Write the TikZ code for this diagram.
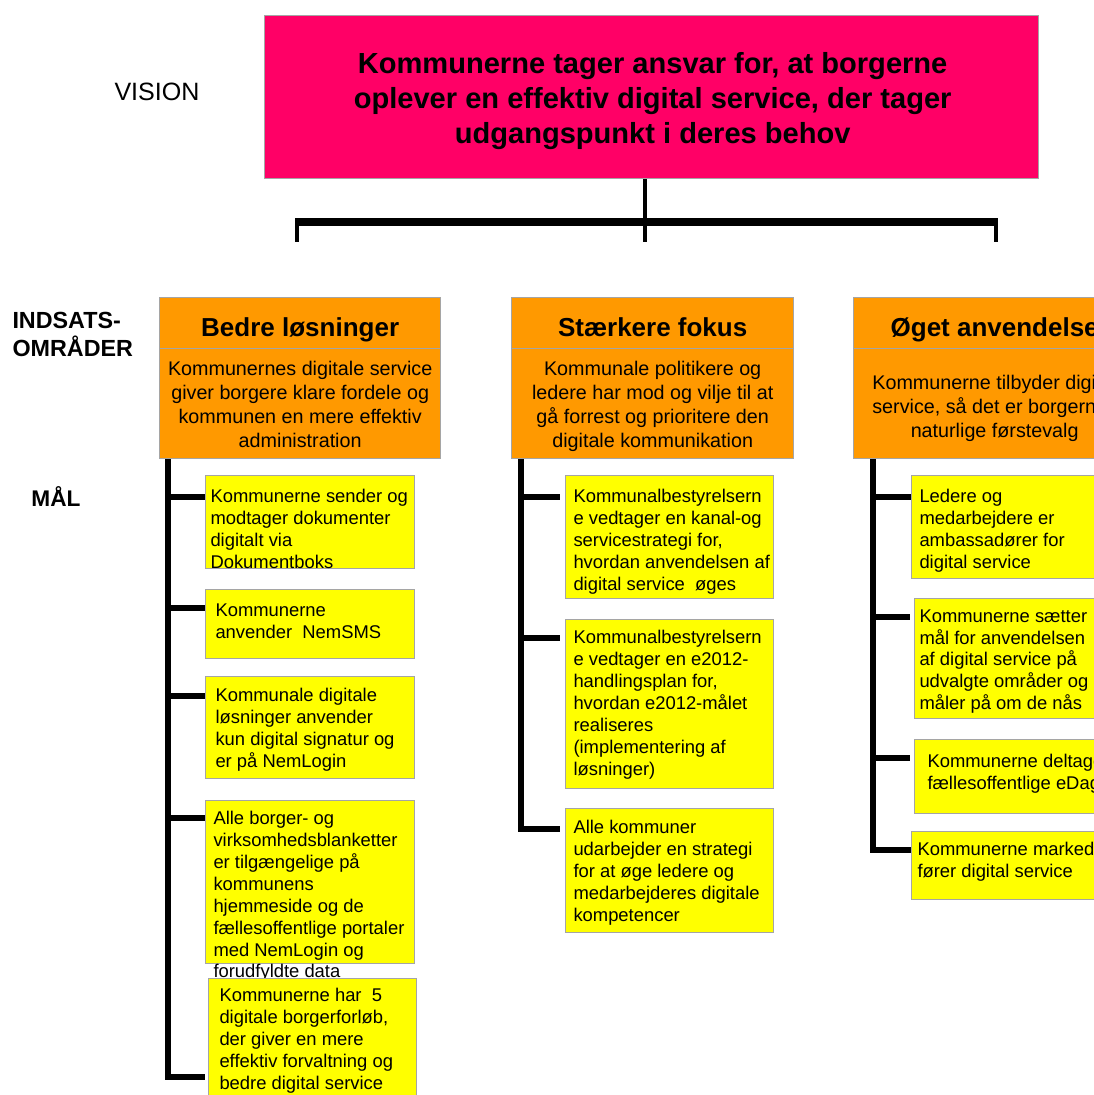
\documentclass[tikz,border=0pt]{standalone}
\usepackage{fontspec}
\setmainfont{Liberation Sans}

\definecolor{visionpink}{RGB}{255,0,102}
\definecolor{areaorange}{RGB}{255,153,0}
\definecolor{goalyellow}{RGB}{255,255,0}
\definecolor{boxgray}{RGB}{165,165,165}

\tikzset{every picture/.style={line width=0.75pt}}
\tikzset{
	box size/.style 2 args={minimum width=#1*0.75pt, minimum height=#2*0.75pt},
	visionbox/.style={draw=boxgray, fill=visionpink, line width=1pt, inner sep=0pt, anchor=north west},
	visiontext/.style={inner sep=0pt, align=center, font=\fontsize{21.8}{26}\selectfont\bfseries},
	areabox/.style={draw=boxgray, fill=areaorange, line width=1pt, inner sep=0pt, anchor=north west},
	areahead/.style={inner sep=0pt, anchor=base, font=\fontsize{19.5}{24}\selectfont\bfseries},
	areatext/.style={inner sep=0pt, align=center, font=\fontsize{14.8}{18}\selectfont},
	goalbox/.style={draw=boxgray, fill=goalyellow, line width=1pt, inner sep=0pt, anchor=north west},
	goaltext/.style={anchor=north west, inner sep=0pt, align=left, font=\fontsize{13.8}{16.4}\selectfont},
	sidelabel/.style={inner sep=0pt, font=\fontsize{17.5}{21}\selectfont\bfseries},
	trunk/.style={line width=4.5pt},
	branch/.style={line width=3.8pt},
	leg/.style={line width=3pt},
	bar/.style={line width=5.5pt}
}

\begin{document}
\begin{tikzpicture}[x=0.75pt,y=0.75pt,yscale=-1,xscale=1]
	\useasboundingbox (0,0) rectangle (1094,1095);
	\clip (0,0) rectangle (1094,1095);

	% Labels at the left
	\node[sidelabel, font=\fontsize{18.8}{22}\selectfont] (lvision) at (157,92) {VISION};
	\node[sidelabel, anchor=west, align=left] (lareas) at (12,334) {INDSATS-\\OMRÅDER};
	\node[sidelabel, font=\fontsize{17}{20}\selectfont\bfseries] (lgoals) at (56,497) {MÅL};

	% Vision
	\node[visionbox, box size={774}{163}] (vision) at (264,15) {};
	\node[visiontext] (vtext) at ([shift={(1,4)}]vision.center) {Kommunerne tager ansvar for, at borgerne\\oplever en effektiv digital service, der tager\\udgangspunkt i deres behov};

	% Bar under the vision
	\coordinate (bar1) at (297,222);
	\coordinate (bar3) at (996,222);
	\coordinate (leg1) at (297,242);
	\coordinate (leg2) at (645,242);
	\coordinate (leg3) at (996,242);
	\draw[leg] (leg2 |- vision.south) -- (leg2);
	\draw[bar] ([xshift=-1.5pt]bar1) -- ([xshift=1.5pt]bar3);
	\draw[leg] (bar1) -- (leg1);
	\draw[leg] (bar3) -- (leg3);

	% Indsatsomraader
	\node[areabox, box size={281}{51}] (h1) at (159,297) {};
	\node[areabox, box size={281}{110}] (d1) at (159,348) {};
	\node[areahead] (ht1) at ([shift={(0,13)}]h1.center) {Bedre løsninger};
	\node[areatext] (dt1) at ([shift={(0,1)}]d1.center) {Kommunernes digitale service\\giver borgere klare fordele og\\kommunen en mere effektiv\\administration};

	\node[areabox, box size={282}{51}] (h2) at (511,297) {};
	\node[areabox, box size={282}{110}] (d2) at (511,348) {};
	\node[areahead] (ht2) at ([shift={(0,13)}]h2.center) {Stærkere fokus};
	\node[areatext] (dt2) at ([shift={(0,3)}]d2.center) {Kommunale politikere og\\ledere har mod og vilje til at\\gå forrest og prioritere den\\digitale kommunikation};

	\node[areabox, box size={282}{51}] (h3) at (853,297) {};
	\node[areabox, box size={282}{110}] (d3) at (853,348) {};
	\node[areahead] (ht3) at ([shift={(0,13)}]h3.center) {Øget anvendelse};
	\node[areatext] (dt3) at ([shift={(0,5)}]d3.center) {Kommunerne tilbyder digital\\service, så det er borgernes\\naturlige førstevalg};

	% Maal, kolonne 1
	\node[goalbox, box size={209}{93}] (m11) at (205,475) {};
	\node[goaltext] (t11) at ([shift={(5,14)}]m11.north west) {Kommunerne sender og\\modtager dokumenter\\digitalt via\\Dokumentboks};
	\node[goalbox, box size={209}{69}] (m12) at (205,589) {};
	\node[goaltext] (t12) at ([shift={(10,14)}]m12.north west) {Kommunerne\\anvender\ \ NemSMS};
	\node[goalbox, box size={209}{102}] (m13) at (205,676) {};
	\node[goaltext] (t13) at ([shift={(10,12)}]m13.north west) {Kommunale digitale\\løsninger anvender\\kun digital signatur og\\er på NemLogin};
	\node[goalbox, box size={209}{163}] (m14) at (205,800) {};
	\node[goaltext] (t14) at ([shift={(8,11)}]m14.north west) {Alle borger- og\\virksomhedsblanketter\\er tilgængelige på\\kommunens\\hjemmeside og de\\fællesoffentlige portaler\\med NemLogin og\\forudfyldte data};
	\node[goalbox, box size={208}{140}] (m15) at (208,978) {};
	\node[goaltext] (t15) at ([shift={(11,10)}]m15.north west) {Kommunerne har\ \ 5\\digitale borgerforløb,\\der giver en mere\\effektiv forvaltning og\\bedre digital service};

	% Maal, kolonne 2
	\node[goalbox, box size={208}{123}] (m21) at (565,475) {};
	\node[goaltext] (t21) at ([shift={(8,14)}]m21.north west) {Kommunalbestyrelsern\\e vedtager en kanal-og\\servicestrategi for,\\hvordan anvendelsen af\\digital service\ \ øges};
	\node[goalbox, box size={208}{169}] (m22) at (565,619) {};
	\node[goaltext] (t22) at ([shift={(8,11)}]m22.north west) {Kommunalbestyrelsern\\e vedtager en e2012-\\handlingsplan for,\\hvordan e2012-målet\\realiseres\\(implementering af\\løsninger)};
	\node[goalbox, box size={208}{124}] (m23) at (565,808) {};
	\node[goaltext] (t23) at ([shift={(8,12)}]m23.north west) {Alle kommuner\\udarbejder en strategi\\for at øge ledere og\\medarbejderes digitale\\kompetencer};

	% Maal, kolonne 3
	\node[goalbox, box size={220}{103}] (m31) at (911,475) {};
	\node[goaltext] (t31) at ([shift={(8,14)}]m31.north west) {Ledere og\\medarbejdere er\\ambassadører for\\digital service};
	\node[goalbox, box size={220}{120}] (m32) at (914,598) {};
	\node[goaltext] (t32) at ([shift={(5,11)}]m32.north west) {Kommunerne sætter\\mål for anvendelsen\\af digital service på\\udvalgte områder og\\måler på om de nås};
	\node[goalbox, box size={220}{74}] (m33) at (914,739) {};
	\node[goaltext] (t33) at ([shift={(13,15)}]m33.north west) {Kommunerne deltager i\\fællesoffentlige eDage};
	\node[goalbox, box size={220}{68}] (m34) at (911,831) {};
	\node[goaltext] (t34) at ([shift={(6,11)}]m34.north west) {Kommunerne markeds-\\fører digital service};

	% Stammer og grene
	\coordinate (s1) at ([shift={(9,0)}]d1.south west);
	\coordinate (s2) at ([shift={(10,0)}]d2.south west);
	\coordinate (s3) at ([shift={(20,0)}]d3.south west);
	\coordinate (b11) at ([shift={(0,22)}]m11.north west);
	\coordinate (b12) at ([shift={(0,19)}]m12.north west);
	\coordinate (b13) at ([shift={(0,20)}]m13.north west);
	\coordinate (b14) at ([shift={(0,18)}]m14.north west);
	\coordinate (b15) at ([shift={(-3,99)}]m15.north west);
	\coordinate (b21) at ([shift={(-5,22)}]m21.north west);
	\coordinate (b22) at ([shift={(-5,19)}]m22.north west);
	\coordinate (b23) at ([shift={(-5,21)}]m23.north west);
	\coordinate (b31) at ([shift={(0,22)}]m31.north west);
	\coordinate (b32) at ([shift={(-4,19)}]m32.north west);
	\coordinate (b33) at ([shift={(-4,19)}]m33.north west);
	\coordinate (b34) at ([shift={(0,19)}]m34.north west);

	\draw[trunk] (s1) |- (b15);
	\draw[branch] (s1 |- b11) -- (b11);
	\draw[branch] (s1 |- b12) -- (b12);
	\draw[branch] (s1 |- b13) -- (b13);
	\draw[branch] (s1 |- b14) -- (b14);

	\draw[trunk] (s2) |- (b23);
	\draw[branch] (s2 |- b21) -- (b21);
	\draw[branch] (s2 |- b22) -- (b22);

	\draw[trunk] (s3) |- (b34);
	\draw[branch] (s3 |- b31) -- (b31);
	\draw[branch] (s3 |- b32) -- (b32);
	\draw[branch] (s3 |- b33) -- (b33);

\end{tikzpicture}
\end{document}
